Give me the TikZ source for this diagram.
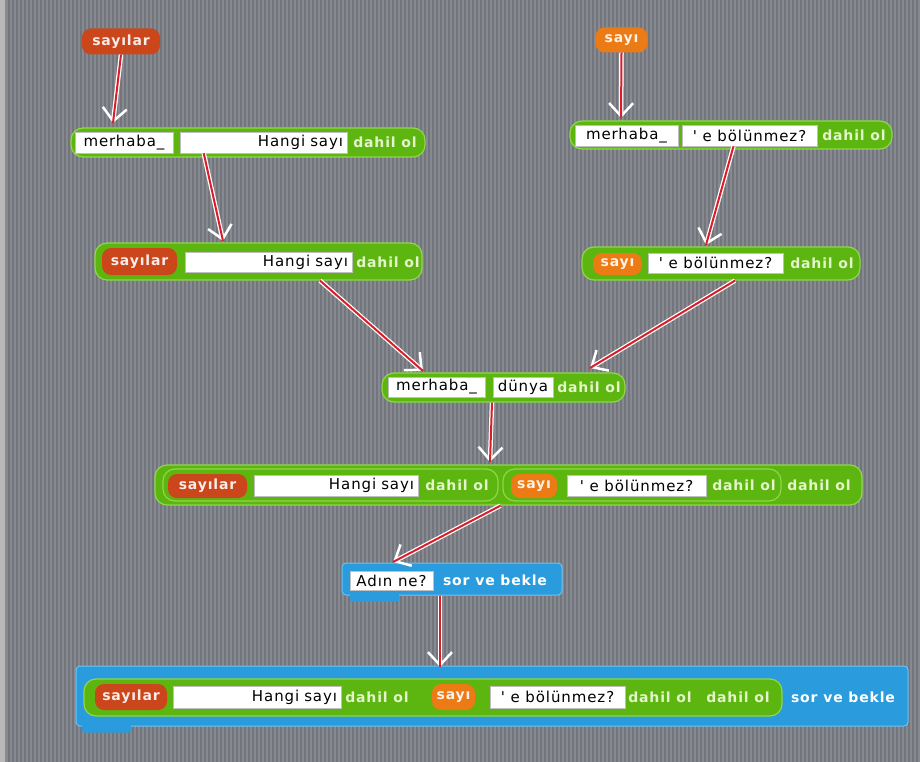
\documentclass[tikz,border=0pt]{standalone}
\usepackage{fontspec}
\setmainfont{DejaVu Sans}
\newfontfamily\slotfont[LetterSpace=6]{DejaVu Sans}
\newfontfamily\blkfont[LetterSpace=6]{DejaVu Sans}
\usetikzlibrary{arrows.meta}

\definecolor{bggray}{HTML}{878A90}
\definecolor{bgstripe}{HTML}{72757B}
\definecolor{blkgreen}{HTML}{5DB50F}
\definecolor{blkedge}{HTML}{8ED84A}
\definecolor{lblgreen}{HTML}{E4F5CC}
\definecolor{varred}{HTML}{CC461B}
\definecolor{varorange}{HTML}{EC7A15}
\definecolor{blkblue}{HTML}{2A9BDD}
\definecolor{blkblueedge}{HTML}{6CC4F0}
\definecolor{linkred}{HTML}{D81E2A}

\tikzset{
  greenblk/.style={draw=blkedge, line width=1.2pt, fill=blkgreen, rounded corners=12pt, inner sep=0pt},
  blueblk/.style={draw=blkblueedge, line width=1pt, fill=blkblue, rounded corners=4pt, inner sep=0pt},
  varblk/.style={fill=#1, rounded corners=9pt, inner sep=0pt, text=white!90!#1,
    font=\blkfont\fontsize{14}{14}\selectfont\bfseries},
  slot/.style={fill=white, draw=black!25, line width=0.5pt, inner sep=0pt, text=black,
    font=\slotfont\fontsize{15}{15}\selectfont},
  slotr/.style={slot, inner xsep=4pt, align=right, text width=#1},
  lbl/.style={inner sep=0pt, text=lblgreen, font=\blkfont\fontsize{14}{14}\selectfont\bfseries},
  blbl/.style={lbl, text=white},
  halo/.style={draw=white, line width=4.5pt, -{Straight Barb[length=13pt,width=24pt,line width=2.5pt]}},
  link/.style={draw=linkred, line width=2pt}
}

\begin{document}
\begin{tikzpicture}[x=1pt,y=-1pt]
\useasboundingbox (0,0) rectangle (920,762);
% Striped canvas
\fill[bggray] (0,0) rectangle (920,762);
\foreach \x in {8,12,...,918}
    \fill[bgstripe] (\x,0) rectangle +(2,762);
\fill[gray!55] (0,0) rectangle (5,762);

% Top variables
\node[varblk=varred, minimum width=78pt, minimum height=26pt] (v1) at (121,41.5) {sayılar};
\node[varblk=varorange, minimum width=52pt, minimum height=25pt] (v2) at (621.5,40) {sayı};

% First row
\node[greenblk, minimum width=354pt, minimum height=29pt] (b1) at (248,142.5) {};
\node[slot, minimum width=98pt, minimum height=21pt] (m1) at (124,142.5) {merhaba\_};
\node[slotr=159pt, minimum height=21pt] (h1) at (263.5,142.5) {Hangi sayı};
\node[lbl] (d1) at (385,142.5) {dahil ol};

\node[greenblk, minimum width=322pt, minimum height=28pt] (b2) at (731,135) {};
\node[slot, minimum width=103pt, minimum height=21pt] (m2) at (626.5,135.5) {merhaba\_};
\node[slot, minimum width=135pt, minimum height=21pt] (e2) at (749.5,135.5) {\textquotesingle{} e bölünmez?};
\node[lbl] (d2) at (854,135) {dahil ol};

% Second row
\node[greenblk, minimum width=327pt, minimum height=37pt] (b3) at (258.5,261.5) {};
\node[varblk=varred, minimum width=75pt, minimum height=27pt] (v3) at (139.5,261.5) {sayılar};
\node[slotr=159pt, minimum height=20pt] (h3) at (268.5,262) {Hangi sayı};
\node[lbl] (d3) at (388,262) {dahil ol};

\node[greenblk, minimum width=278pt, minimum height=33pt] (b4) at (721,263.5) {};
\node[varblk=varorange, minimum width=49pt, minimum height=22pt] (v4) at (617.5,264) {sayı};
\node[slot, minimum width=135pt, minimum height=20pt] (e4) at (715.5,263) {\textquotesingle{} e bölünmez?};
\node[lbl] (d4) at (822,263) {dahil ol};

% Join
\node[greenblk, minimum width=243pt, minimum height=29pt] (b5) at (503.5,387.5) {};
\node[slot, minimum width=97pt, minimum height=20pt] (m5) at (436.5,387) {merhaba\_};
\node[slot, minimum width=60pt, minimum height=20pt] (u5) at (523,387) {dünya};
\node[lbl] (d5) at (589,387) {dahil ol};

% Nested block
\node[greenblk, minimum width=707pt, minimum height=40pt] (b6) at (508.5,485) {};
\node[greenblk, minimum width=335pt, minimum height=32pt] (g6a) at (330.5,485) {};
\node[greenblk, minimum width=278pt, minimum height=32pt] (g6b) at (642,485) {};
\node[varblk=varred, minimum width=79pt, minimum height=24pt] (v6a) at (207.5,486) {sayılar};
\node[slotr=156pt, minimum height=21pt] (h6) at (336,485.5) {Hangi sayı};
\node[lbl] (d6a) at (457,485) {dahil ol};
\node[varblk=varorange, minimum width=46pt, minimum height=24pt] (v6b) at (534,486) {sayı};
\node[slot, minimum width=139pt, minimum height=21pt] (e6) at (636.5,485.5) {\textquotesingle{} e bölünmez?};
\node[lbl] (d6b) at (744,485) {dahil ol};
\node[lbl] (d6c) at (819,485) {dahil ol};

% Ask block
\node[blueblk, minimum width=220pt, minimum height=32pt] (b7) at (452,579) {};
\fill[blkblue, rounded corners=3pt] ([xshift=8pt,yshift=2pt]b7.south west) rectangle ([xshift=58pt,yshift=-6pt]b7.south west);
\node[slot, minimum width=83pt, minimum height=19pt] (a7) at (391.5,581) {Adın ne?};
\node[blbl] (q7) at (495,580) {sor ve bekle};

% Final block
\node[blueblk, minimum width=832pt, minimum height=60pt] (b8) at (492,696) {};
\fill[blkblue, rounded corners=3pt] ([xshift=6pt,yshift=2pt]b8.south west) rectangle ([xshift=56pt,yshift=-6pt]b8.south west);
\node[greenblk, minimum width=698pt, minimum height=37pt] (g8) at (433,697.5) {};
\node[varblk=varred, minimum width=72pt, minimum height=26pt] (v8a) at (131,697) {sayılar};
\node[slotr=160pt, minimum height=22pt] (h8) at (257,697) {Hangi sayı};
\node[lbl] (d8a) at (377,697) {dahil ol};
\node[varblk=varorange, minimum width=43pt, minimum height=26pt] (v8b) at (453.5,697) {sayı};
\node[slot, minimum width=135pt, minimum height=22pt] (e8) at (557.5,697) {\textquotesingle{} e bölünmez?};
\node[lbl] (d8b) at (660,697) {dahil ol};
\node[lbl] (d8c) at (738,697) {dahil ol};
\node[blbl] (q8) at (843,697) {sor ve bekle};

% Arrows
\coordinate (s3) at ([xshift=24pt]h1.south west);
\coordinate (s4) at ([xshift=-16pt]e2.south);
\coordinate (s5) at ([xshift=61.5pt]b3.south);
\coordinate (s6) at ([xshift=14pt]b4.south);
\coordinate (s7) at ([xshift=-11.5pt]b5.south);
\coordinate (s8) at ([xshift=-8pt]b6.south);
\coordinate (s9) at ([xshift=-12pt]b7.south);
\coordinate (t1) at (113,123);
\coordinate (t2) at (621,118);
\coordinate (t3) at (223,241);
\coordinate (t4) at (706,245);
\coordinate (t5) at (423,371);
\coordinate (t6) at (590,368);
\coordinate (t7) at (490,462);
\coordinate (t8) at (393,562);
\coordinate (t9) at (440,667);
\foreach \a/\b in {v1.south/t1, v2.south/t2, s3/t3, s4/t4, s5/t5, s6/t6, s7/t7, s8/t8, s9/t9}{
    \draw[halo] (\a) -- (\b);
    \draw[link] (\a) -- (\b);
}
\end{tikzpicture}
\end{document}
